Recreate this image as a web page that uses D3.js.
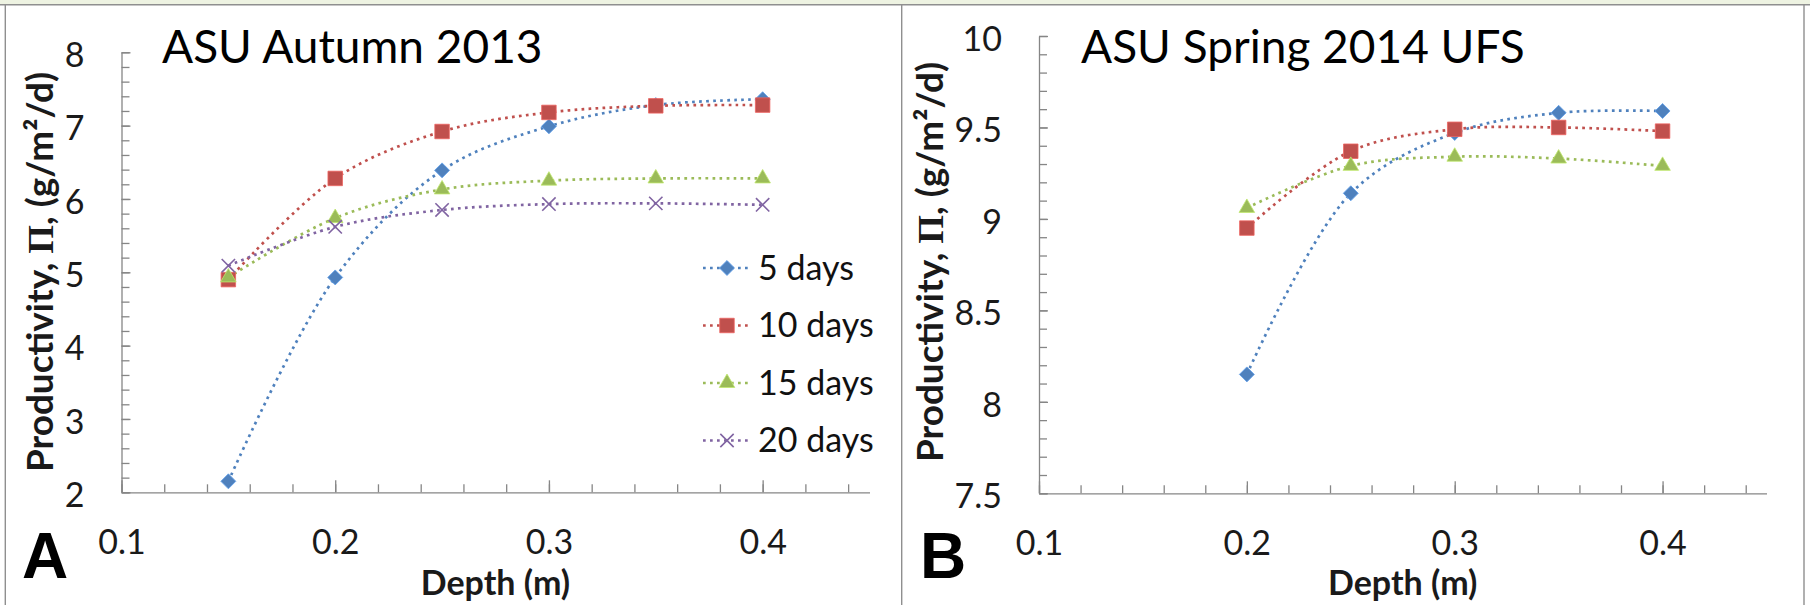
<!DOCTYPE html>
<html>
<head>
<meta charset="utf-8">
<script src="https://cdn.jsdelivr.net/npm/d3@7"></script>
<style>
  body { margin: 0; background: #fff; }
  svg { display: block; font-family: Lato, sans-serif; }
  .axis path, .axis line { stroke: #868686; stroke-width: 1.3; }
  .axis text { font-family: Lato, sans-serif; font-size: 34px; fill: #1a1a1a; }
</style>
</head>
<body>
<svg width="1810" height="605"></svg>
<script>
// values
const depthA = [0.15, 0.2, 0.25, 0.3, 0.35, 0.4];
const autumn5  = [2.15, 4.93, 6.39, 6.99, 7.28, 7.36];
const autumn10 = [4.90, 6.28, 6.92, 7.18, 7.27, 7.28];
const autumn15 = [4.93, 5.74, 6.13, 6.25, 6.28, 6.28];
const autumn20 = [5.09, 5.62, 5.85, 5.93, 5.94, 5.92];

const depthB = [0.2, 0.25, 0.3, 0.35, 0.4];
const spring5  = [8.15, 9.14, 9.47, 9.58, 9.59];
const spring10 = [8.95, 9.37, 9.49, 9.50, 9.48];
const spring15 = [9.06, 9.29, 9.34, 9.33, 9.29];

const seriesNames = ["5 days", "10 days", "15 days", "20 days"];
const xTicks = [0.1, 0.2, 0.3, 0.4];
const yTicksA = [2, 3, 4, 5, 6, 7, 8];
const yTicksB = [7.5, 8, 8.5, 9, 9.5, 10];

const colors = ["#4F81BD", "#C0504D", "#9BBB59", "#8064A2"];
const markers = [
  { type: d3.symbolSquare, size: 112, rotate: 45 },
  { type: d3.symbolSquare, size: 210, rotate: 0 },
  { type: d3.symbolTriangle, size: 105, rotate: 0 },
  { type: d3.symbolX, size: 118, rotate: 0, open: true }
];

const svg = d3.select("svg");

// frame: green strip on top, grey panel borders
svg.append("rect").attr("x", 0).attr("y", 0).attr("width", 1810).attr("height", 4.5).attr("fill", "#eef3e2");
svg.append("line").attr("x1", 0).attr("x2", 1810).attr("y1", 4.8).attr("y2", 4.8)
  .attr("stroke", "#8f8f8f").attr("stroke-width", 1.4);
[5.3, 901.7, 1804].forEach(xp => {
  svg.append("line").attr("x1", xp).attr("x2", xp).attr("y1", 4.8).attr("y2", 605)
    .attr("stroke", "#8f8f8f").attr("stroke-width", 1.4);
});

// draw one marker
const addMarker = (sel, i, px, py) => {
  const m = markers[i];
  sel.append("path")
    .attr("d", d3.symbol().type(m.type).size(m.size)())
    .attr("transform", `translate(${px},${py}) rotate(${m.rotate})`)
    .attr("fill", m.open ? "none" : colors[i])
    .attr("stroke", m.open ? colors[i] : d3.color(colors[i]).brighter(0.6))
    .attr("stroke-width", m.open ? 1.6 : 0.8);
};

const drawPanel = (p) => {
  const x = d3.scaleLinear().domain([0.1, 0.45]).range(p.xRange);
  const y = d3.scaleLinear().domain(p.yDomain).range(p.yRange);
  const g = svg.append("g");

  // minor ticks
  g.append("g").attr("class", "axis")
    .attr("transform", `translate(0,${p.yRange[0]})`)
    .call(d3.axisBottom(x).tickValues(d3.range(0.1, 0.445, 0.02)).tickSize(-8).tickSizeOuter(0).tickFormat(""))
    .select(".domain").remove();
  g.append("g").attr("class", "axis")
    .attr("transform", `translate(${p.xRange[0]},0)`)
    .call(d3.axisLeft(y).tickValues(d3.range(p.yDomain[0], p.yDomain[1] + 1e-6, p.yMinor)).tickSize(-8).tickSizeOuter(0).tickFormat(""))
    .select(".domain").remove();

  // major ticks + labels
  const xa = g.append("g").attr("class", "axis")
    .attr("transform", `translate(0,${p.yRange[0]})`)
    .call(d3.axisBottom(x).tickValues(xTicks).tickSize(-12).tickSizeOuter(0).tickFormat(d3.format(".1f")));
  xa.selectAll("text").attr("y", 50).attr("dy", "0.35em");

  const ya = g.append("g").attr("class", "axis")
    .attr("transform", `translate(${p.xRange[0]},0)`)
    .call(d3.axisLeft(y).tickValues(p.yTicks).tickSize(-9).tickSizeOuter(0).tickPadding(37).tickFormat(d => d));
  ya.selectAll("text").attr("dy", "0.42em");

  // series
  const line = d3.line()
    .x(d => x(d[0]))
    .y(d => y(d[1]))
    .curve(d3.curveCatmullRom);

  p.series.forEach((vals, i) => {
    g.append("path")
      .datum(d3.zip(p.depths, vals))
      .attr("d", line)
      .attr("fill", "none")
      .attr("stroke", colors[i])
      .attr("stroke-width", 2.7)
      .attr("stroke-dasharray", "2.7 4.3");
  });
  p.series.forEach((vals, i) => {
    d3.zip(p.depths, vals).forEach(d => addMarker(g, i, x(d[0]), y(d[1])));
  });

  // texts
  g.append("text")
    .attr("x", p.titleX).attr("y", 63)
    .attr("font-size", 46).attr("fill", "#000")
    .text(p.title);

  g.append("text")
    .attr("x", p.letterX).attr("y", 578)
    .attr("font-family", "'Liberation Sans', Arial, sans-serif")
    .attr("font-weight", "bold").attr("font-size", 64).attr("fill", "#000")
    .text(p.letter);

  g.append("text")
    .attr("x", (p.xRange[0] + p.xRange[1]) / 2).attr("y", 595)
    .attr("text-anchor", "middle")
    .attr("font-weight", "bold").attr("font-size", 34).attr("fill", "#1a1a1a")
    .text("Depth (m)");

  const yl = g.append("text")
    .attr("transform", `translate(${p.yLabelX},${p.yLabelY}) rotate(-90)`)
    .attr("text-anchor", "middle")
    .attr("textLength", 400).attr("lengthAdjust", "spacingAndGlyphs")
    .attr("font-weight", "bold").attr("font-size", 36).attr("fill", "#1a1a1a");
  yl.append("tspan").text("Productivity, ");
  yl.append("tspan").attr("font-family", "'Liberation Serif', serif").text("\u03A0");
  yl.append("tspan").text(", (g/m\u00B2/d)");

  // legend
  if (p.legend) {
    seriesNames.forEach((name, i) => {
      const ly = 268 + i * 57.5;
      g.append("line")
        .attr("x1", 703).attr("x2", 751).attr("y1", ly).attr("y2", ly)
        .attr("stroke", colors[i]).attr("stroke-width", 2.7)
        .attr("stroke-dasharray", "2.7 4.3");
      addMarker(g, i, 727, ly);
      g.append("text")
        .attr("x", 758).attr("y", ly).attr("dy", "0.35em")
        .attr("font-size", 34).attr("fill", "#111")
        .text(name);
    });
  }
};

drawPanel({
  xRange: [121.5, 869.5], yDomain: [2, 8], yRange: [492.3, 52.3],
  yTicks: yTicksA, yMinor: 0.2, depths: depthA,
  series: [autumn5, autumn10, autumn15, autumn20],
  title: "ASU Autumn 2013", titleX: 162,
  letter: "A", letterX: 22, yLabelX: 53, yLabelY: 272, legend: true
});

drawPanel({
  xRange: [1039, 1766.5], yDomain: [7.5, 10], yRange: [493.3, 36],
  yTicks: yTicksB, yMinor: 0.1, depths: depthB,
  series: [spring5, spring10, spring15],
  title: "ASU Spring 2014 UFS", titleX: 1081,
  letter: "B", letterX: 920, yLabelX: 943, yLabelY: 262, legend: false
});
</script>
</body>
</html>
